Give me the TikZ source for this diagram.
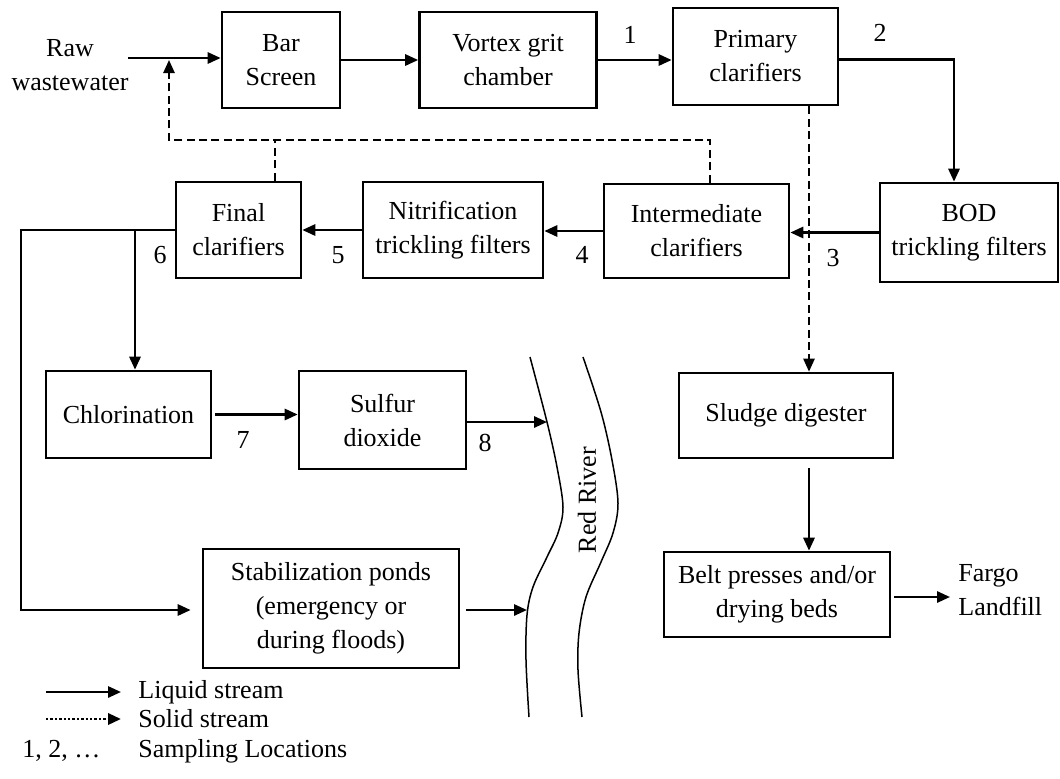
\documentclass[tikz,border=0pt]{standalone}
\usepackage{fontspec}
\setmainfont{Liberation Serif}
\usepackage{tikz}
\usetikzlibrary{positioning,arrows.meta}
\tikzset{
  procbox/.style={draw,line width=1.35pt,inner sep=0pt,align=center,
    font=\fontsize{13}{17}\selectfont},
  plaintext/.style={inner sep=0pt,align=center,font=\fontsize{13}{17}\selectfont},
  numlbl/.style={inner sep=0pt,font=\fontsize{13}{17}\selectfont},
  liqflow/.style={line width=1.2pt,-{Triangle[length=6.5pt,width=5.6pt]}},
  liqline/.style={line width=1.2pt},
  solflow/.style={line width=1pt,dash pattern=on 4pt off 2.2pt,
    -{Triangle[length=6.5pt,width=5.6pt]}},
  solline/.style={line width=1pt,dash pattern=on 4pt off 2.2pt},
  legdots/.style={line width=1.4pt,dash pattern=on 1.2pt off 1pt,
    -{Triangle[length=6.5pt,width=5.6pt]}},
  riverbank/.style={line width=0.75pt},
}

\begin{document}
\begin{tikzpicture}[x=0.5pt,y=-0.5pt]
  \useasboundingbox (0,0) rectangle (1060,778);
  \node[plaintext] (raw) at (70,65) {Raw\\wastewater};
  \node[procbox,minimum width=59pt,minimum height=48pt] (bar) at (281,60) {Bar\\Screen};
  \node[procbox,minimum width=88.5pt,minimum height=48pt] (vortex) at (508,60) {Vortex grit\\chamber};
  \node[procbox,minimum width=82.5pt,minimum height=48.5pt] (primary) at (755.5,56.5) {Primary\\clarifiers};
  \node[procbox,minimum width=89pt,minimum height=49.5pt] (bod) at (969,232.5) {BOD\\trickling filters};
  \node[procbox,minimum width=92.5pt,minimum height=47pt] (inter) at (696.5,231) {Intermediate\\clarifiers};
  \node[procbox,minimum width=90pt,minimum height=48pt] (nitri) at (453,230) {Nitrification\\trickling filters};
  \node[procbox,minimum width=62.5pt,minimum height=48pt] (final) at (238.5,230) {Final\\clarifiers};
  \node[procbox,minimum width=82.5pt,minimum height=43.5pt] (chlor) at (128.5,414.5) {Chlorination};
  \node[procbox,minimum width=83.5pt,minimum height=49pt] (sulfur) at (382.5,420) {Sulfur\\dioxide};
  \node[procbox,minimum width=107pt,minimum height=42.5pt] (sludge) at (786,415.5) {Sludge digester};
  \node[procbox,minimum width=113pt,minimum height=42.5pt] (belt) at (777,594.5) {Belt presses and/or\\drying beds};
  \node[procbox,minimum width=128pt,minimum height=59.5pt] (stab) at (331,608.5) {Stabilization ponds\\(emergency or\\during floods)};
  \node[plaintext,align=left,anchor=west] (fargo) at (958,590) {Fargo\\Landfill};
  \node[plaintext,rotate=90] (redriver) at (587,500) {Red River};

  \node[numlbl] (n1) at (630,35) {1};
  \node[numlbl] (n2) at (880,33) {2};
  \node[numlbl] (n3) at (833,258) {3};
  \node[numlbl] (n4) at (582,255) {4};
  \node[numlbl] (n5) at (338,255) {5};
  \node[numlbl] (n6) at (160,255) {6};
  \node[numlbl] (n7) at (243,440) {7};
  \node[numlbl] (n8) at (485,443) {8};

  \draw[riverbank] plot[smooth,tension=0.55] coordinates {(530,357) (547,422) (557,467) (563,507) (558,533) (547,557) (533,587) (527,615) (526,660) (529,717)};
  \draw[riverbank] plot[smooth,tension=0.55] coordinates {(583,357) (601,412) (612,460) (618,503) (613,533) (601,562) (586,597) (579,633) (578,670) (582,717)};

  \coordinate (inS) at (128,58);
  \coordinate (inJ) at (169,60);
  \coordinate (recR) at (169,140);
  \coordinate (recI) at (710,140);
  \coordinate (recF) at (275,140);
  \coordinate (sx) at (809,373);
  \coordinate (br) at (135,230);
  \coordinate (lft) at (21,610);
  \coordinate (riv8) at (547,422);
  \coordinate (rivS) at (527,610);

  \draw[liqflow] (inS) -- (inS -| bar.west);
  \draw[liqflow] (bar.east) -- (bar.east -| vortex.west);
  \draw[liqflow] (vortex.east) -- (vortex.east -| primary.west);
  \draw[liqflow] ([yshift=-1.5pt]primary.east) -| ([xshift=-7.5pt]bod.north);
  \draw[liqflow] (bod.west) -- (bod.west -| inter.east);
  \draw[liqflow] (inter.west) -- (inter.west -| nitri.east);
  \draw[liqflow] (nitri.west) -- (nitri.west -| final.east);
  \draw[liqflow] (final.west) -| (lft) -- ([xshift=-5.5pt]stab.west |- lft);
  \draw[liqflow] (br) -- (br |- chlor.north);
  \draw[liqflow] ([xshift=1.5pt]chlor.east) -- (chlor.east -| sulfur.west);
  \draw[liqflow] (sulfur.east |- riv8) -- (riv8);
  \draw[liqflow] ([xshift=3pt]stab.east |- rivS) -- (rivS);
  \draw[liqflow] ([yshift=-4.5pt]sludge.south -| sx) -- (belt.north -| sx);
  \draw[liqflow] ([xshift=1.5pt]belt.east |- 0,597) -- ([xshift=-4pt]fargo.west |- 0,597);

  \draw[solflow] (primary.south -| sx) -- (sludge.north -| sx);
  \draw[solflow] (inter.north -| recI) -- (recI) -- (recR) -- (inJ);
  \draw[solline] (final.north -| recF) -- (recF);

  \node[plaintext,anchor=west] (lgliq) at (138,692) {Liquid stream};
  \node[plaintext,anchor=west] (lgsol) at (138,719) {Solid stream};
  \node[plaintext,anchor=west] (lgsam) at (138,751) {Sampling Locations};
  \node[plaintext,anchor=west] (lgnum) at (22,751) {1, 2, …};
  \coordinate (lq) at (46,692);
  \coordinate (ls) at (46,719);
  \draw[liqflow] (lq) -- ([xshift=-8.5pt]lgliq.west);
  \draw[legdots] (ls) -- ([xshift=-8.5pt]lgsol.west);
\end{tikzpicture}
\end{document}
